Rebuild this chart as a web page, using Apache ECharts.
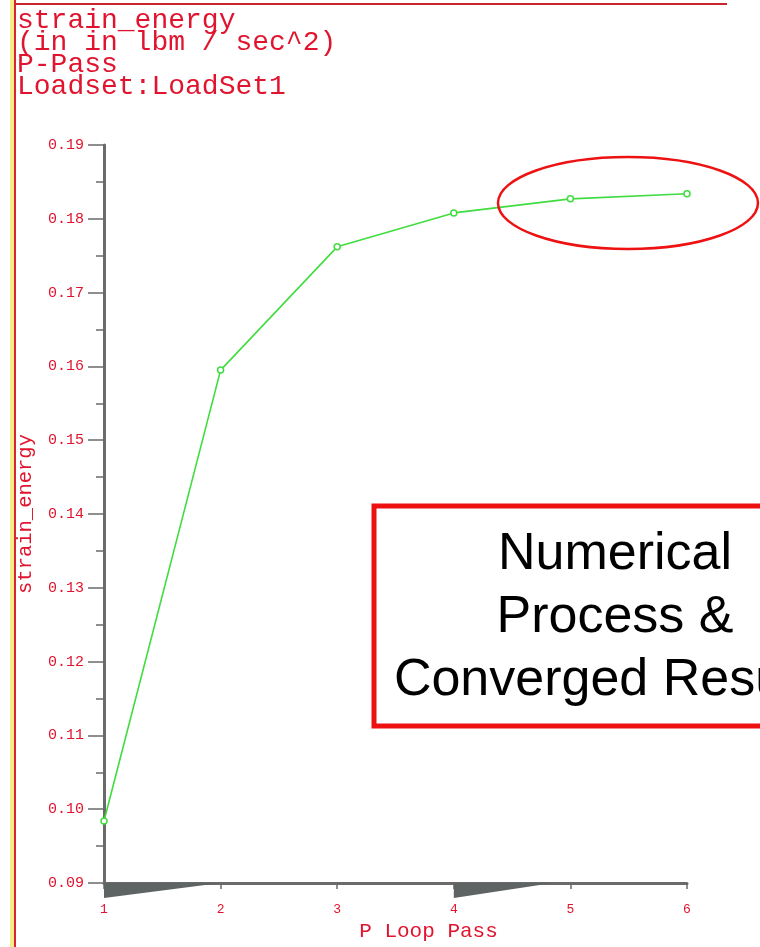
<!DOCTYPE html>
<html>
<head>
<meta charset="utf-8">
<script src="https://cdn.jsdelivr.net/npm/echarts@6/dist/echarts.min.js"></script>
<style>
  html, body { margin: 0; padding: 0; background: #ffffff; }
  #chart { width: 760px; height: 947px; }
</style>
</head>
<body>
<div id="chart"></div>
<script>
// P-loop convergence of strain energy
const passes = [1, 2, 3, 4, 5, 6];
const strainEnergy = [0.0984, 0.1595, 0.1762, 0.1808, 0.1827, 0.1834];
const headerLines = ['strain_energy', '(in in lbm / sec^2)', 'P-Pass', 'Loadset:LoadSet1'];
const annotationLines = ['Numerical', 'Process &', 'Converged Results'];
const yTicks = { min: 0.09, max: 0.19, step: 0.01 };
const xTicks = { min: 1, max: 6, step: 1 };
// shaded wedges under the x axis: [start pass, end pass]
const wedges = [[1, 2.0], [4, 4.85]];

const RED = '#e0142e';
const MONO = '"Liberation Mono", "DejaVu Sans Mono", monospace';

const chart = echarts.init(document.getElementById('chart'), null, { renderer: 'canvas' });

const option = {
  backgroundColor: '#ffffff',
  animation: false,
  grid: { left: 104, right: 73, top: 145, bottom: 64, containLabel: false },
  xAxis: {
    type: 'value',
    min: xTicks.min, max: xTicks.max, interval: xTicks.step,
    name: 'P Loop Pass',
    nameLocation: 'middle',
    nameGap: 38,
    nameTextStyle: { color: RED, fontFamily: MONO, fontSize: 21, padding: [0, 0, 0, 66] },
    axisLine: { show: true, lineStyle: { color: '#6a6a6a', width: 3 } },
    axisTick: { show: true, inside: false, length: 6, lineStyle: { color: '#6a6a6a', width: 1.5 } },
    axisLabel: { color: RED, fontFamily: MONO, fontSize: 13, margin: 20 },
    splitLine: { show: false }
  },
  yAxis: {
    type: 'value',
    min: yTicks.min, max: yTicks.max, interval: yTicks.step,
    name: 'strain_energy',
    nameLocation: 'middle',
    nameGap: 68,
    nameRotate: 90,
    nameTextStyle: { color: RED, fontFamily: MONO, fontSize: 20.5 },
    axisLine: { show: true, lineStyle: { color: '#6a6a6a', width: 3 } },
    axisTick: { show: true, length: 16, lineStyle: { color: '#6a6a6a', width: 1.5 } },
    minorTick: { show: true, splitNumber: 2, length: 8, lineStyle: { color: '#6a6a6a', width: 1.5 } },
    axisLabel: {
      color: RED, fontFamily: MONO, fontSize: 15, margin: 20,
      formatter: v => v.toFixed(2)
    },
    splitLine: { show: false }
  },
  series: [
    {
      type: 'custom',
      silent: true,
      z: 1,
      clip: false,
      data: wedges,
      renderItem: (params, api) => {
        const p0 = api.coord([api.value(0), yTicks.min]);
        const p1 = api.coord([api.value(1), yTicks.min]);
        return {
          type: 'polygon',
          shape: { points: [[p0[0], p0[1]], [p1[0], p1[1]], [p0[0], p0[1] + 15]] },
          style: { fill: '#5e6363' }
        };
      }
    },
    {
      type: 'line',
      data: passes.map((p, i) => [p, strainEnergy[i]]),
      symbol: 'circle',
      symbolSize: 6,
      showSymbol: true,
      lineStyle: { color: '#40dc40', width: 1.6 },
      itemStyle: { color: '#ffffff', borderColor: '#40dc40', borderWidth: 1.5 },
      z: 3
    }
  ],
  graphic: [
    // left frame: pale yellow strip and red border
    { type: 'rect', shape: { x: 10, y: 0, width: 4, height: 947 }, style: { fill: '#f3ee8a' }, z: 10 },
    { type: 'rect', shape: { x: 14, y: 0, width: 2, height: 947 }, style: { fill: '#d8252e' }, z: 10 },
    { type: 'rect', shape: { x: 14, y: 3, width: 713, height: 2 }, style: { fill: '#c8262e' }, z: 10 },
    // header text
    {
      type: 'text', x: 17, y: 10, z: 10,
      style: {
        text: headerLines.join('\n'),
        fill: RED,
        font: '28px ' + MONO,
        lineHeight: 22
      }
    },
    // convergence highlight
    {
      type: 'ellipse', z: 10,
      shape: { cx: 628, cy: 203, rx: 130, ry: 46 },
      style: { fill: 'none', stroke: '#ee1111', lineWidth: 2.5 }
    },
    // annotation box
    {
      type: 'rect', z: 10,
      shape: { x: 374, y: 506, width: 470, height: 220 },
      style: { fill: '#ffffff', stroke: '#ee1111', lineWidth: 5 }
    },
    {
      type: 'text', z: 11,
      x: 615, y: 523,
      style: {
        text: annotationLines.join('\n'),
        fill: '#000000',
        font: '52px "Liberation Sans", Arial, sans-serif',
        align: 'center',
        verticalAlign: 'top',
        lineHeight: 63
      }
    }
  ]
};

chart.setOption(option);
</script>
</body>
</html>
